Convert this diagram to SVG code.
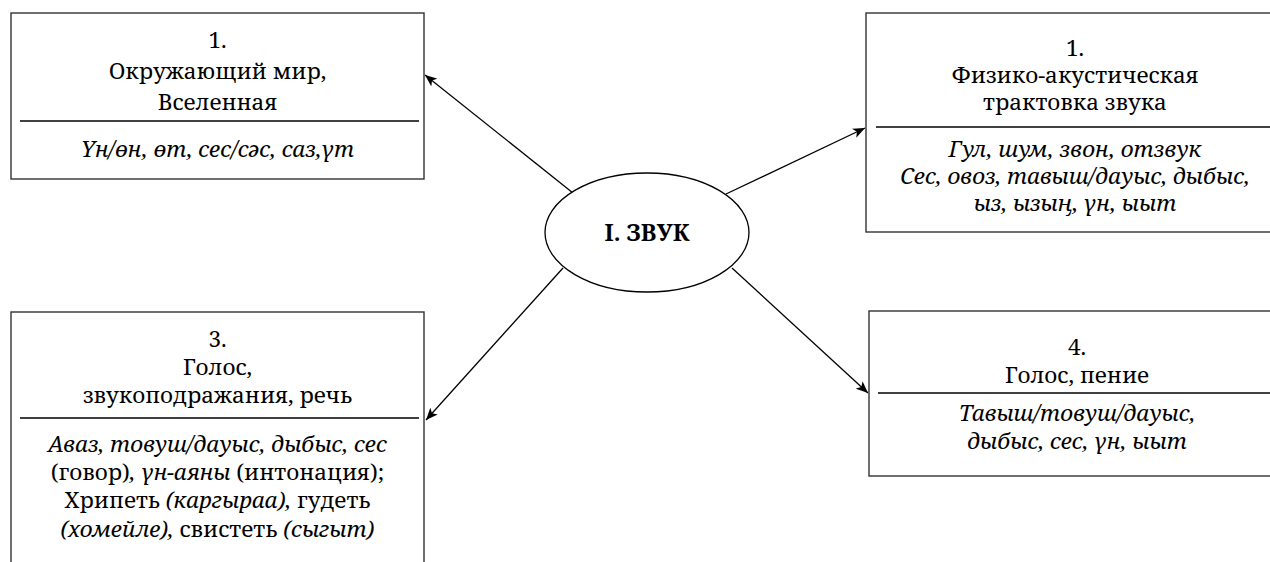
<svg xmlns="http://www.w3.org/2000/svg" width="1270" height="562" viewBox="0 0 1270 562">
<defs>
<marker id="ah" viewBox="0 0 12 10" refX="12" refY="5" markerWidth="12" markerHeight="10" markerUnits="userSpaceOnUse" orient="auto">
<path d="M0,0 L12,5 L0,10 L3,5 Z" fill="#000"/>
</marker>
</defs>
<rect width="1270" height="562" fill="#fff"/>
<g id="connectors" stroke="#000" stroke-width="1.3" fill="none" marker-end="url(#ah)">
<line x1="573" y1="193" x2="425" y2="75"/>
<line x1="726" y1="194" x2="865" y2="128"/>
<line x1="563" y1="268" x2="426" y2="420"/>
<line x1="732" y1="268" x2="868" y2="393"/>
</g>
<g id="center" text-anchor="middle">
<ellipse cx="647" cy="232.5" rx="102" ry="59.5" fill="#fff" stroke="#000" stroke-width="1.3"/>
<text style="font-family:'Noto Serif','DejaVu Serif',serif;font-weight:bold;font-size:23px" x="647" y="241">I. ЗВУК</text>
</g>
<g id="node1" text-anchor="middle" style="font-family:'Noto Serif','DejaVu Serif',serif;font-size:22.5px">
<rect x="11" y="13" width="413" height="166" fill="#fff" stroke="#333" stroke-width="1.4"/>
<line x1="20" y1="121" x2="419" y2="121" stroke="#000" stroke-width="1.3"/>
<text x="217.5" y="48">1.</text>
<text x="217.5" y="79">Окружающий мир,</text>
<text x="217.5" y="110">Вселенная</text>
<text font-style="italic" x="217.5" y="157">Үн/өн, өт, сес/сәс, саз,үт</text>
</g>
<g id="node2" text-anchor="middle" style="font-family:'Noto Serif','DejaVu Serif',serif;font-size:22.5px">
<rect x="866" y="13" width="418" height="219" fill="#fff" stroke="#333" stroke-width="1.4"/>
<line x1="876" y1="127" x2="1284" y2="127" stroke="#000" stroke-width="1.3"/>
<text x="1075" y="56">1.</text>
<text x="1075" y="83">Физико-акустическая</text>
<text x="1075" y="110">трактовка звука</text>
<text font-style="italic" x="1075" y="157">Гул, шум, звон, отзвук</text>
<text font-style="italic" x="1075" y="184">Сес, овоз, тавыш/дауыс, дыбыс,</text>
<text font-style="italic" x="1075" y="211">ыз, ызың, үн, ыыт</text>
</g>
<g id="node3" text-anchor="middle" style="font-family:'Noto Serif','DejaVu Serif',serif;font-size:22.5px">
<rect x="11" y="312" width="413" height="270" fill="#fff" stroke="#333" stroke-width="1.4"/>
<line x1="20" y1="418" x2="419" y2="418" stroke="#000" stroke-width="1.3"/>
<text x="217.5" y="347">3.</text>
<text x="217.5" y="375">Голос,</text>
<text x="217.5" y="403">звукоподражания, речь</text>
<text font-style="italic" x="217.5" y="452">Аваз, товуш/дауыс, дыбыс, сес</text>
<text x="217.5" y="480">(говор)<tspan font-style="italic">, үн-аяны</tspan> (интонация);</text>
<text x="217.5" y="508">Хрипеть <tspan font-style="italic">(каргыраа),</tspan> гудеть</text>
<text x="217.5" y="537"><tspan font-style="italic">(хомейле),</tspan> свистеть <tspan font-style="italic">(сыгыт)</tspan></text>
</g>
<g id="node4" text-anchor="middle" style="font-family:'Noto Serif','DejaVu Serif',serif;font-size:22.5px">
<rect x="869" y="311" width="416" height="165" fill="#fff" stroke="#333" stroke-width="1.4"/>
<line x1="878" y1="393" x2="1285" y2="393" stroke="#000" stroke-width="1.3"/>
<text x="1077" y="355">4.</text>
<text x="1077" y="383">Голос, пение</text>
<text font-style="italic" x="1077" y="421">Тавыш/товуш/дауыс,</text>
<text font-style="italic" x="1077" y="449">дыбыс, сес, үн, ыыт</text>
</g>
</svg>
